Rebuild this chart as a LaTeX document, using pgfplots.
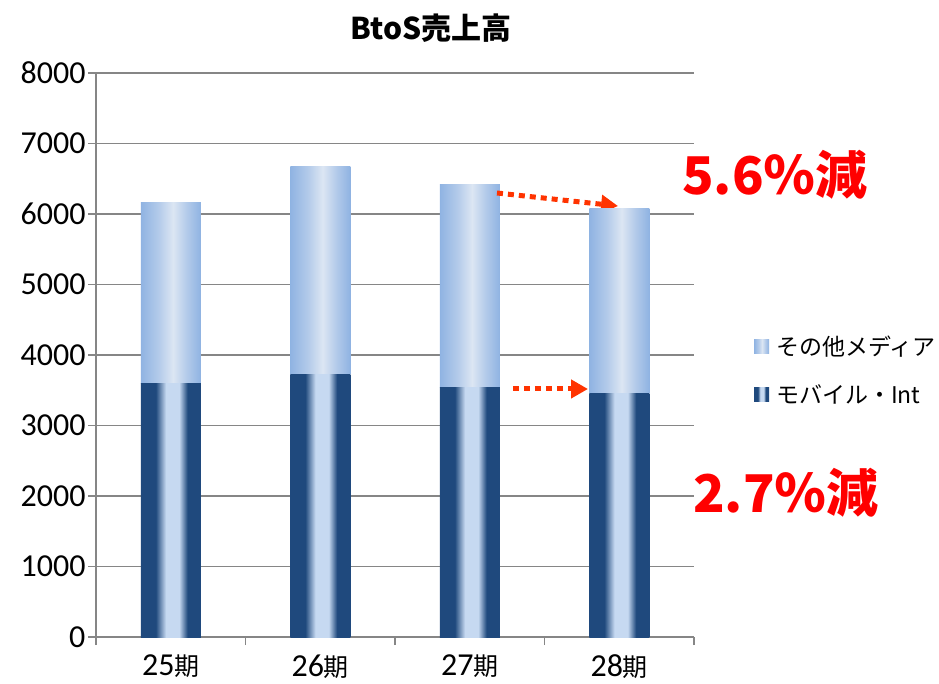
\documentclass[border=0pt]{standalone}
\usepackage{fontspec}
\setmainfont{Carlito}
\newfontfamily\cjk{Noto Sans CJK JP}
\usepackage{pgfplots}
\pgfplotsset{compat=1.18}
\usetikzlibrary{arrows.meta}

\definecolor{dkblue}{HTML}{1F497D}
\definecolor{dklight}{HTML}{C6D9F1}
\definecolor{ltedge}{HTML}{8FB3E2}
\definecolor{ltmid}{HTML}{B4CBEA}
\definecolor{ltcenter}{HTML}{DCE6F3}
\definecolor{gridgray}{HTML}{868686}
\definecolor{arrowred}{HTML}{FF3300}

\pgfdeclarehorizontalshading{darkbar}{100bp}{color(0bp)=(dkblue); color(25bp)=(dkblue); color(37.5bp)=(dkblue); color(46bp)=(dklight); color(57bp)=(dklight); color(64bp)=(dkblue); color(75bp)=(dkblue); color(100bp)=(dkblue)}
\pgfdeclarehorizontalshading{lightbar}{100bp}{color(0bp)=(ltedge); color(25bp)=(ltedge); color(40bp)=(ltmid); color(52bp)=(ltcenter); color(63bp)=(ltmid); color(75bp)=(ltedge); color(100bp)=(ltedge)}

\newcommand{\ki}{{\cjk\fontsize{25}{30}\selectfont 期}}

\pgfplotsset{
  barbase/.style={at={(96pt,46pt)}, anchor=south west,
    scale only axis, width=598pt, height=564pt,
    ybar stacked, bar width=60pt,
    xmin=-0.5, xmax=3.5, ymin=0, ymax=8000,
    enlarge x limits=false, clip=false},
  darkseg/.style={draw=none, shading=darkbar, shade},
  lightseg/.style={draw=none, shading=lightbar, shade},
}

\begin{document}
\begin{tikzpicture}[x=1pt,y=1pt]
\useasboundingbox (0,0) rectangle (939,683);
% main axis: frame, grid, ticks, legend, bar 25期
\begin{axis}[
  barbase,
  ytick={0,1000,2000,3000,4000,5000,6000,7000,8000},
  yticklabels={0,1000,2000,3000,4000,5000,6000,7000,8000},
  xtick={0,1,2,3},
  xticklabels={25\ki,26\ki,27\ki,28\ki},
  minor xtick={-0.5,0.5,1.5,2.5,3.5},
  axis lines=left,
  axis line style={-, draw=gridgray, line width=1.5pt},
  ymajorgrids,
  grid style={gridgray, line width=1.5pt},
  tick align=outside, major tick length=8pt, minor tick length=8pt,
  ytick style={gridgray, line width=1.5pt},
  major x tick style={draw=none},
  minor x tick style={gridgray, line width=1.5pt},
  xticklabel style={font=\fontsize{32}{36}\selectfont, yshift=-6pt},
  yticklabel style={font=\fontsize{32}{36}\selectfont, xshift=1pt},
  reverse legend,
  legend style={at={(1.1,0.541)}, anchor=north west, draw=none, fill=none,
    font=\cjk\fontsize{23}{28}\selectfont, row sep=23pt, inner xsep=0pt},
  legend cell align=left,
]
\addplot[darkseg,
  legend image code/.code={\path[shading=darkbar, shade, draw=none] (0pt,-7pt) rectangle (15pt,7pt); \path (0pt,0pt) -- (20pt,0pt);}]
  coordinates {(0,3600)};
\addlegendentry{モバイル・Int}
\addplot[lightseg,
  legend image code/.code={\path[shading=lightbar, shade, draw=none] (0pt,-7pt) rectangle (15pt,7pt); \path (0pt,0pt) -- (20pt,0pt);}]
  coordinates {(0,2570)};
\addlegendentry{その他メディア}
\end{axis}
% 26期
\begin{axis}[barbase, hide axis]
\addplot[darkseg] coordinates {(1,3730)};
\addplot[lightseg] coordinates {(1,2940)};
\end{axis}
% 27期
\begin{axis}[barbase, hide axis]
\addplot[darkseg] coordinates {(2,3545)};
\addplot[lightseg] coordinates {(2,2880)};
\end{axis}
% 28期
\begin{axis}[barbase, hide axis]
\addplot[darkseg] coordinates {(3,3447)};
\addplot[lightseg] coordinates {(3,2638)};
\draw[arrowred, line width=5pt, dash pattern=on 6pt off 5pt, -{Triangle[length=17pt,width=18pt]}]
  (axis cs:2.182,6298) -- (axis cs:2.992,6113);
\draw[arrowred, line width=5pt, dash pattern=on 6pt off 5pt, -{Triangle[length=17pt,width=18pt]}]
  (axis cs:2.289,3518) -- (axis cs:2.791,3518);
\end{axis}
\node[font=\cjk\bfseries\fontsize{30}{36}\selectfont] at (431,655) {BtoS売上高};
\node[font=\cjk\bfseries\fontsize{52}{60}\selectfont, text=red] at (775,508) {5.6％減};
\node[font=\cjk\bfseries\fontsize{52}{60}\selectfont, text=red] at (786,190) {2.7％減};
\end{tikzpicture}
\end{document}
